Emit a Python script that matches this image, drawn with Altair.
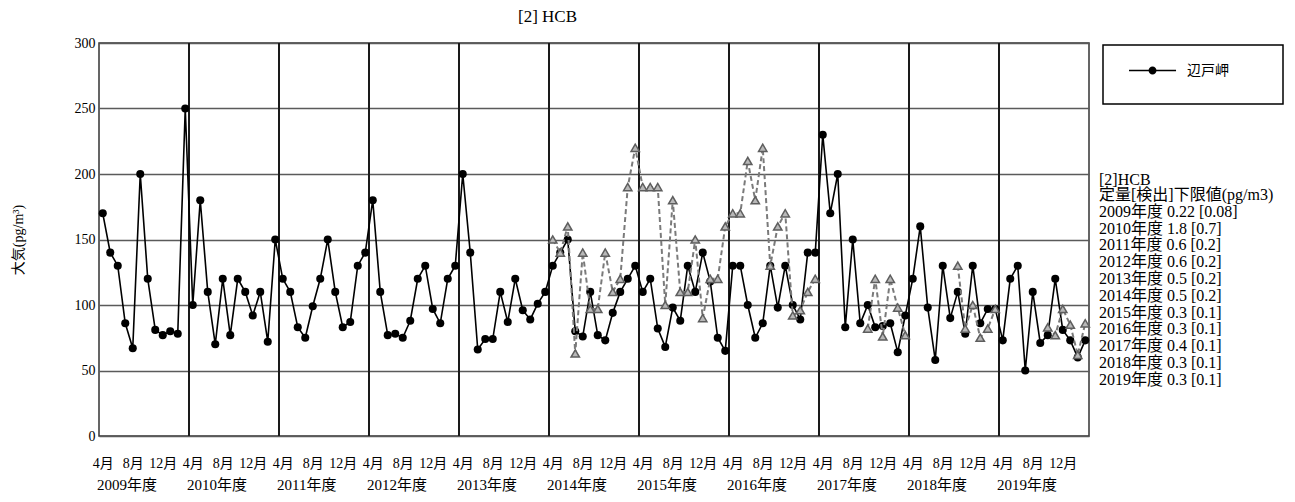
import altair as alt
import pandas as pd

chart_title = "[2] HCB"
y_title = "大気(pg/m³)"
site_name = "辺戸岬"
fiscal_years = [2009, 2010, 2011, 2012, 2013, 2014, 2015, 2016, 2017, 2018, 2019]
month_order = [4, 5, 6, 7, 8, 9, 10, 11, 12, 1, 2, 3]
label_months = [4, 8, 12]
y_ticks = [0, 50, 100, 150, 200, 250, 300]

# 辺戸岬 (black, circles), Apr 2009 .. Mar 2020
hedo = [
    170, 140, 130, 86, 67, 200, 120, 81, 77, 80, 78, 250,
    100, 180, 110, 70, 120, 77, 120, 110, 92, 110, 72, 150,
    120, 110, 83, 75, 99, 120, 150, 110, 83, 87, 130, 140,
    180, 110, 77, 78, 75, 88, 120, 130, 97, 86, 120, 130,
    200, 140, 66, 74, 74, 110, 87, 120, 96, 89, 101, 110,
    130, 140, 150, 80, 76, 110, 77, 73, 94, 110, 120, 130,
    110, 120, 82, 68, 98, 88, 130, 110, 140, 118, 75, 65,
    130, 130, 100, 75, 86, 130, 98, 130, 100, 89, 140, 140,
    230, 170, 200, 83, 150, 86, 100, 83, 84, 86, 64, 92,
    120, 160, 98, 58, 130, 90, 110, 78, 130, 86, 97, 97,
    73, 120, 130, 50, 110, 71, 77, 120, 81, 73, 60, 73,
]

# grey dashed series with triangles (no legend entry)
other = [
    None, None, None, None, None, None, None, None, None, None, None, None,
    None, None, None, None, None, None, None, None, None, None, None, None,
    None, None, None, None, None, None, None, None, None, None, None, None,
    None, None, None, None, None, None, None, None, None, None, None, None,
    None, None, None, None, None, None, None, None, None, None, None, None,
    150, 140, 160, 63, 140, 97, 97, 140, 110, 120, 190, 220,
    190, 190, 190, 100, 180, 110, 110, 150, 90, 120, 120, 160,
    170, 170, 210, 180, 220, 130, 160, 170, 92, 96, 110, 120,
    None, None, None, None, None, None, 82, 120, 76, 120, 98, 77,
    None, None, None, None, None, None, 130, 82, 100, 75, 82, 97,
    None, None, None, None, None, None, 83, 77, 97, 85, 62, 86,
]

note_header = "[2]HCB"
note_caption = "定量[検出]下限値(pg/m3)"
loq = ["0.22", "1.8", "0.6", "0.6", "0.5", "0.5", "0.3", "0.3", "0.4", "0.3", "0.3"]
lod = ["0.08", "0.7", "0.2", "0.2", "0.2", "0.2", "0.1", "0.1", "0.1", "0.1", "0.1"]

SERIF = "Liberation Serif, Noto Sans CJK JP"
SANS_JP = "Noto Sans CJK JP"

# ---- tables built from the lists ----
rows = []
seg = 0
prev_valid = False
for k, fy in enumerate(fiscal_years):
    for j, m in enumerate(month_order):
        i = k * len(month_order) + j
        o = other[i]
        if o is not None and not prev_valid:
            seg += 1
        prev_valid = o is not None
        rows.append({"pos": i + 0.5, "fy": fy, "month": m, "hedo": hedo[i],
                     "other": o, "seg": seg, "site": site_name})
df = pd.DataFrame(rows)
df_other = df[df["other"].notna()].copy()

n_per_year = len(month_order)
n_total = n_per_year * len(fiscal_years)
bounds = pd.DataFrame({"pos": [n_per_year * k for k in range(1, len(fiscal_years))]})
year_df = pd.DataFrame({"pos": [n_per_year * k for k in range(len(fiscal_years))],
                        "label": [f"{fy}年度" for fy in fiscal_years]})

label_vals = [r["pos"] for r in rows if r["month"] in label_months]
idx = {m: month_order.index(m) for m in label_months}
label_expr = (f"floor(datum.value) % {n_per_year} == {idx[4]} ? '4月' : "
              f"floor(datum.value) % {n_per_year} == {idx[8]} ? '8月' : '12月'")

W, H = 990, 393

xscale = alt.Scale(domain=[0, n_total], nice=False, zero=False)
xaxis = alt.Axis(values=label_vals, labelExpr=label_expr, grid=False, ticks=False,
                 domain=False, labelOverlap=False, labelFlush=False, title=None,
                 labelFont=SERIF, labelFontSize=14, labelColor="#000", labelPadding=20)
yscale = alt.Scale(domain=[0, 300], nice=False, zero=True)
yaxis = alt.Axis(values=y_ticks, grid=True, gridColor="#5a5a5a", gridWidth=1.5,
                 ticks=False, domain=False, title=y_title, titleFont=SERIF,
                 titleFontSize=14, titleFontWeight="normal", titleColor="#000",
                 titleX=-81, titleY=H / 2, titleAngle=270, titleAlign="center",
                 titleBaseline="middle", labelFont=SERIF, labelFontSize=14,
                 labelColor="#000", labelPadding=4)

X = alt.X("pos:Q", scale=xscale, axis=xaxis)

legend_symbol = ("M-0.19,-0.032L1.81,-0.032L1.81,0.032L-0.19,0.032Z "
                 "M0.98,0A0.17,0.17,0,1,1,0.64,0A0.17,0.17,0,1,1,0.98,0Z")

one_row = pd.DataFrame({"k": [0]})

legend_box = alt.Chart(one_row).mark_rect(fill="white", stroke="black", strokeWidth=1.5).encode(
    x=alt.value(1004), x2=alt.value(1184), y=alt.value(2), y2=alt.value(61))

year_rules = alt.Chart(bounds).mark_rule(color="#1a1a1a", strokeWidth=2).encode(x=X)

black_line = alt.Chart(df).mark_line(color="black", strokeWidth=1.6).encode(
    x=X, y=alt.Y("hedo:Q", scale=yscale, axis=yaxis))

black_pts = alt.Chart(df).mark_circle(size=65, opacity=1).encode(
    x=X, y=alt.Y("hedo:Q", scale=yscale, axis=yaxis),
    color=alt.Color("site:N", scale=alt.Scale(domain=[site_name], range=["black"]),
                    legend=alt.Legend(title=None, orient="none", legendX=1004, legendY=-3,
                                      padding=6, symbolType=legend_symbol,
                                      symbolSize=2209, labelFont=SANS_JP, labelFontSize=14,
                                      labelColor="#000", labelOffset=29)))

grey_line = alt.Chart(df_other).mark_line(color="#7a7a7a", strokeWidth=2,
                                          strokeDash=[5, 3]).encode(
    x=X, y=alt.Y("other:Q", scale=yscale, axis=yaxis), detail="seg:N")

grey_pts = alt.Chart(df_other).mark_point(shape="triangle-up", filled=True, fill="#b8b8b8",
                                          stroke="#5e5e5e", strokeWidth=1.5, size=70,
                                          opacity=1).encode(
    x=X, y=alt.Y("other:Q", scale=yscale, axis=yaxis))

year_labels = alt.Chart(year_df).mark_text(align="left", baseline="middle", font=SERIF,
                                           fontSize=15, color="#000", dx=-2).encode(
    x=X, y=alt.value(H + 49), text="label:N")

note_lines = [note_caption] + [f"{fy}年度 {q} [{d}]" for fy, q, d in zip(fiscal_years, loq, lod)]
note_head = alt.Chart(one_row).mark_text(align="left", baseline="middle", font=SERIF,
                                         fontSize=16, color="#000", text=note_header).encode(
    x=alt.value(1000), y=alt.value(137))
note_body = alt.Chart(one_row).mark_text(align="left", baseline="top", font=SERIF,
                                         fontSize=16, color="#000", lineHeight=16.8,
                                         text=note_lines).encode(
    x=alt.value(1000), y=alt.value(144))

chart = alt.layer(legend_box, year_rules, black_line, black_pts, grey_line, grey_pts,
                  year_labels, note_head, note_body).properties(
    width=W, height=H,
    padding={"left": 91, "top": 35, "right": 196, "bottom": 56},
    autosize=alt.AutoSizeParams(type="none"),
    title=alt.TitleParams(chart_title, anchor="start", frame="group", dx=419, offset=10,
                          font=SERIF, fontSize=17, fontWeight="normal", color="#000"),
).configure_view(stroke="#333", strokeWidth=1.5)

chart.save("out.html", embed_options={"renderer": "svg", "actions": False})
